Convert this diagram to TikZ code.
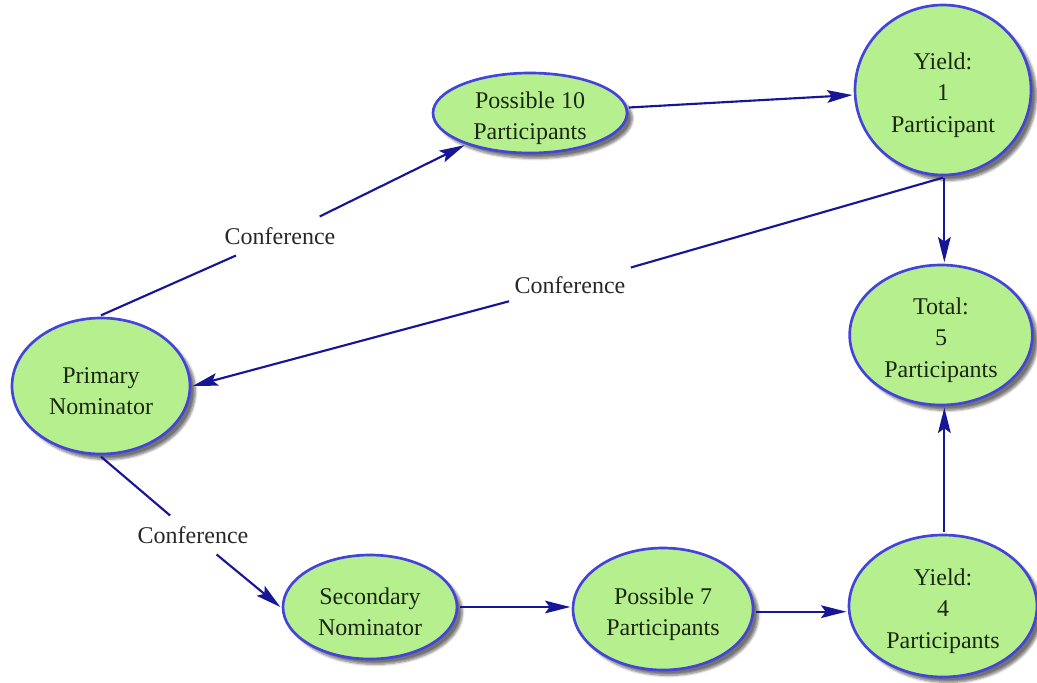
\documentclass[tikz,border=0pt]{standalone}
\usepackage{fontspec}
\setmainfont{Liberation Serif}
\newfontfamily\mapfont{Liberation Serif}
\usetikzlibrary{shapes.geometric,arrows.meta,shadows.blur}
\definecolor{nodefill}{RGB}{182,240,142}
\definecolor{nodeline}{RGB}{68,68,218}
\definecolor{edgecol}{RGB}{22,22,150}
\definecolor{nodetext}{RGB}{28,38,18}
\definecolor{labtext}{RGB}{40,40,40}
% strut on the first line so the text sits a little below the ellipse centre
\newcommand{\firstline}{\rule{0pt}{20pt}}
\tikzset{
  concept/.style={ellipse, draw=nodeline, line width=2pt, fill=nodefill,
    inner sep=-14pt, outer sep=2pt, align=center, text=nodetext,
    font=\mapfont\fontsize{18}{23.5}\selectfont,
    blur shadow={shadow xshift=4pt, shadow yshift=-4pt, shadow blur steps=6, shadow opacity=55}},
  linklab/.style={inner xsep=4pt, inner ysep=8pt, text=labtext,
    font=\mapfont\fontsize{18}{22.5}\selectfont},
  conn/.style={draw=edgecol, line width=1.6pt},
  arr/.style={conn, -{Stealth[length=19pt,width=9.5pt,inset=3.5pt]}},
}
\begin{document}
\begin{tikzpicture}[x=0.75pt,y=-0.75pt]
\useasboundingbox (0,0) rectangle (1037,682);

% concepts
\node[concept, minimum width=133.5pt, minimum height=102pt] (prim) at (101,386) {\firstline Primary\\Nominator};
\node[concept, minimum width=145.5pt, minimum height=60pt] (poss10) at (530,113) {\firstline Possible 10\\Participants};
\node[concept, minimum width=132pt, minimum height=127.5pt] (yield1) at (943,90) {\firstline Yield:\\1\\Participant};
\node[concept, minimum width=137pt, minimum height=105pt] (total) at (941,335) {\firstline Total:\\5\\Participants};
\node[concept, minimum width=130.5pt, minimum height=78pt] (second) at (370,607) {\firstline Secondary\\Nominator};
\node[concept, minimum width=135pt, minimum height=91.5pt] (poss7) at (663,609) {\firstline Possible 7\\Participants};
\node[concept, minimum width=141pt, minimum height=106.5pt] (yield4) at (943,606) {\firstline Yield:\\4\\Participants};

% link phrases
\node[linklab] (lab1) at (280,236) {Conference};
\node[linklab] (lab2) at (570,285) {Conference};
\node[linklab] (lab3) at (193,535) {Conference};

% connections
\draw[conn] (prim.north) -- (lab1);
\draw[arr] (lab1) -- (poss10);
\draw[arr] (poss10) -- (yield1);
\draw[arr] ([xshift=1pt]yield1.south) -- ([xshift=1pt]yield1.south |- total.north);
\draw[conn] (yield1.south) -- (lab2);
\draw[arr] (lab2) -- (prim.east);
\draw[conn] (prim.south) -- (lab3);
\draw[arr] (lab3) -- (second.west);
\draw[arr] (second.east) -- (second.east -| poss7.west);
\draw[arr] ([yshift=-2pt]poss7.east) -- ([yshift=-2pt]poss7.east -| yield4.west);
\draw[arr] ([xshift=1pt]yield4.north) -- ([xshift=1pt]yield4.north |- total.south);
\end{tikzpicture}
\end{document}
